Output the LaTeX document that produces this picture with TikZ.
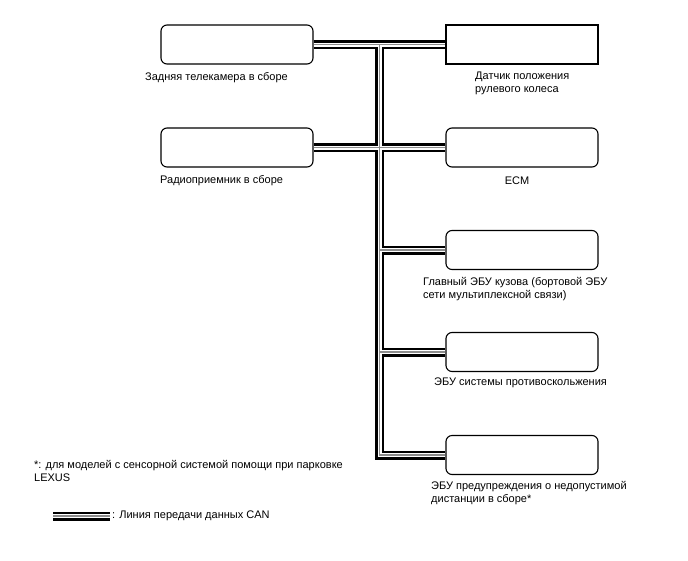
\documentclass[tikz,border=0pt]{standalone}
\usepackage{fontspec}
\setmainfont{Liberation Sans}
\usetikzlibrary{calc}
\begin{document}
\begin{tikzpicture}[x=1pt,y=-1pt,
  box/.style={draw=black,line width=1.1pt,fill=white,minimum width=152pt,minimum height=39pt,inner sep=0pt},
  rbox/.style={box,rounded corners=6pt},
  lbl/.style={font=\fontsize{11}{13}\selectfont,inner sep=0pt,anchor=base west,align=left},
  busA/.style={draw=black,line width=9pt,line join=miter},
  busB/.style={draw=white,line width=4pt,line join=miter},
  busC/.style={draw=black!45,line width=1.2pt,line join=miter}]
\useasboundingbox[fill=white] (0,0) rectangle (688,560);
% boxes
\node[rbox] (b1) at (237,44.5) {};
\node[rbox] (b2) at (237,147.5) {};
\node[box]  (bA) at (522,44.5) {};
\node[rbox] (bB) at (522,147.5) {};
\node[rbox] (bC) at (522,250) {};
\node[rbox] (bD) at (522,352) {};
\node[rbox] (bE) at (522,455) {};
\coordinate (j1) at ($(b1.east)!0.5!(bA.west)$);
\coordinate (lg1) at (53,516);
\coordinate (lg2) at (110,516);
% CAN bus (three passes)
\foreach \st in {busA,busB,busC}{
  \path[\st] (b1.east) -- (bA.west);
  \path[\st] (j1) |- (bE.west);
  \path[\st] (b2.east) -- (bB.west);
  \path[\st] (j1 |- bC.west) -- (bC.west);
  \path[\st] (j1 |- bD.west) -- (bD.west);
  \path[\st] (lg1) -- (lg2);
}
% labels (base = baseline of last line)
\node[lbl] (t1) at (145,80) {Задняя телекамера в сборе};
\node[lbl] (t2) at (160,183) {Радиоприемник в сборе};
\node[lbl] (tA) at (475,92) {Датчик положения\\рулевого колеса};
\node[lbl,anchor=base] (tB) at (517,184) {ECM};
\node[lbl] (tC) at (423,298) {Главный ЭБУ кузова (бортовой ЭБУ\\сети мультиплексной связи)};
\node[lbl] (tD) at (434,385) {ЭБУ системы противоскольжения};
\node[lbl] (tE) at (431,502) {ЭБУ предупреждения о недопустимой\\дистанции в сборе*};
\node[lbl] (fn) at (34,481) {*: для моделей с сенсорной системой помощи при парковке\\LEXUS};
\node[lbl,anchor=west] (lgt) at ([xshift=2pt]lg2) {: Линия передачи данных CAN};
\end{tikzpicture}
\end{document}
